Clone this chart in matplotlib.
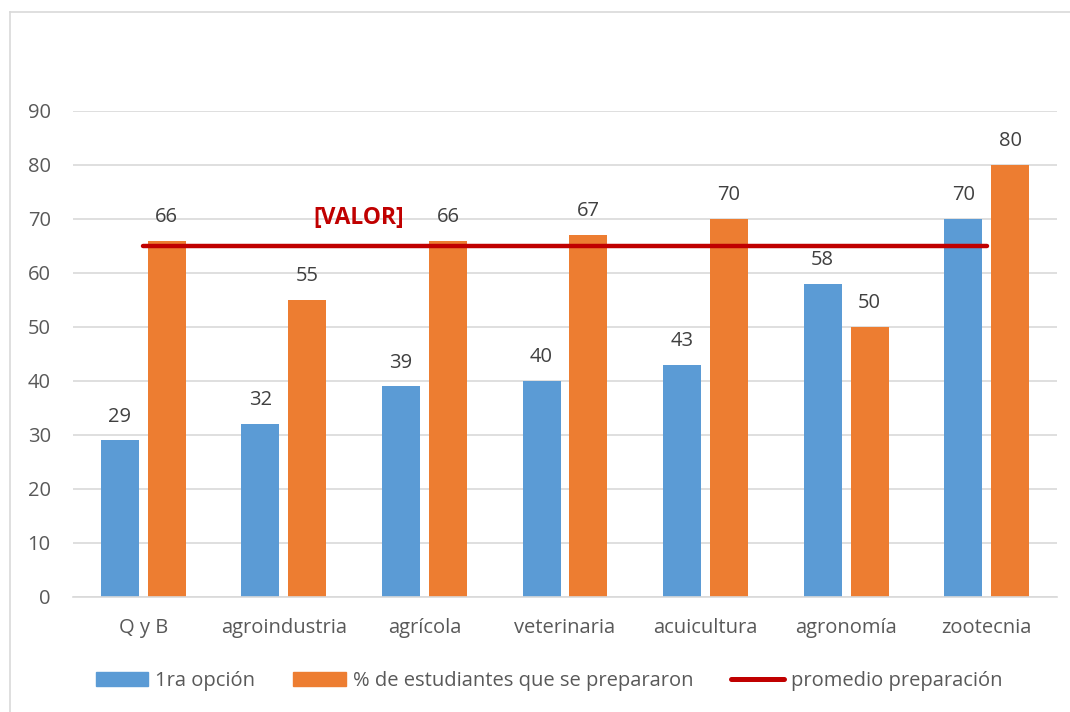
import matplotlib
matplotlib.use("Agg")
import matplotlib.pyplot as plt
import numpy as np
from matplotlib.lines import Line2D
from matplotlib.patches import Patch

categories = ["Q y B", "agroindustria", "agrícola", "veterinaria", "acuicultura", "agronomía", "zootecnia"]
primera_opcion = [29, 32, 39, 40, 43, 58, 70]
preparados = [66, 55, 66, 67, 70, 50, 80]
promedio = 65
promedio_label = "[VALOR]"
yticks = list(range(0, 100, 10))

BLUE = "#5B9BD5"
ORANGE = "#ED7D31"
RED = "#C00000"
TXT = "#595959"
GRID = "#D9D9D9"

plt.rcParams['font.family'] = ['Open Sans', 'DejaVu Sans']

fig = plt.figure(figsize=(10.7, 7.12), dpi=100)
ax = fig.add_axes([73/1070, 1 - 597/712, (1057-73)/1070, (597-111)/712])

x = np.arange(len(categories))
w = 0.27
off = 0.167
b1 = ax.bar(x - off, primera_opcion, w, color=BLUE, zorder=2)
b2 = ax.bar(x + off, preparados, w, color=ORANGE, zorder=2)

for bars, vals in ((b1, primera_opcion), (b2, preparados)):
    for r, v in zip(bars, vals):
        ax.annotate(str(v), (r.get_x() + r.get_width()/2, v), xytext=(0, 10),
                    textcoords="offset points", ha="center", va="bottom",
                    fontsize=14.5, color="#404040")

ax.plot([x[0], x[-1]], [promedio, promedio], color=RED, lw=3.2,
        solid_capstyle="round", zorder=3)
ax.text(1.53, 70.2, promedio_label, color=RED, fontsize=16.5,
        fontweight="bold", ha="center", va="center", zorder=4)

ax.set_xlim(-0.5, len(categories) - 0.5)
ax.set_ylim(0, 90)
ax.set_yticks(yticks)
ax.set_xticks(x)
ax.set_xticklabels(categories)
ax.tick_params(axis="both", length=0, labelsize=14.5, colors=TXT)
ax.tick_params(axis="x", pad=15)
ax.tick_params(axis="y", pad=16)
ax.grid(axis="y", color=GRID, lw=1.2, zorder=0)
for s in ("top", "right", "left"):
    ax.spines[s].set_visible(False)
ax.spines["bottom"].set_color(GRID)
ax.spines["bottom"].set_linewidth(1.2)

handles = [Patch(color=BLUE), Patch(color=ORANGE),
           Line2D([0], [0], color=RED, lw=3.6, solid_capstyle="round")]
labels = ["1ra opción", "% de estudiantes que se prepararon", "promedio preparación"]
fig.legend(handles, labels, loc="center", bbox_to_anchor=(0.513, 1 - 681/712),
           ncol=3, frameon=False, fontsize=14.5, labelcolor=TXT,
           handlelength=2.6, handleheight=0.7, columnspacing=1.9, handletextpad=0.35)

# outer chart border (left and top visible)
fig.add_artist(Line2D([10/1070, 10/1070], [0, 1 - 12/712], color=GRID, lw=1.2,
                      transform=fig.transFigure))
fig.add_artist(Line2D([10/1070, 1], [1 - 12/712, 1 - 12/712], color=GRID, lw=1.2,
                      transform=fig.transFigure))

fig.savefig("out.png", dpi=100)
